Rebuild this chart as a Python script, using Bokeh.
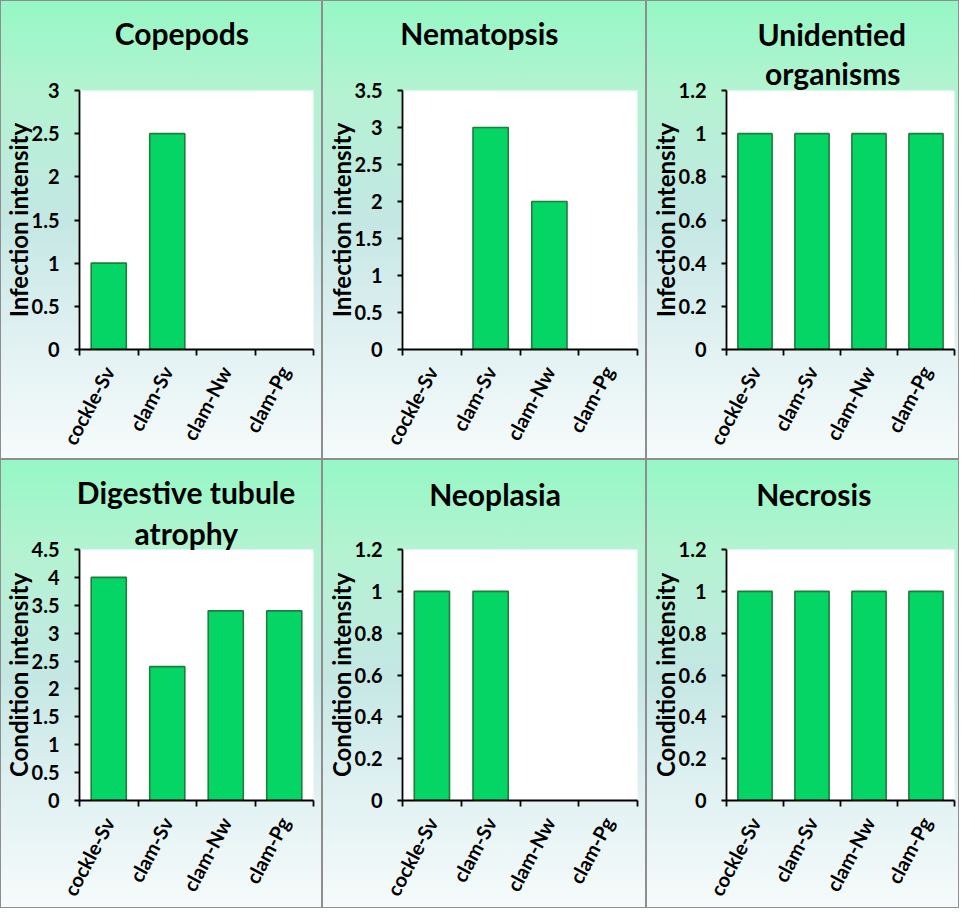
import math
from bokeh.plotting import figure
from bokeh.layouts import gridplot
from bokeh.models import (FixedTicker, NumeralTickFormatter, Range1d, ColumnDataSource,
                          CustomJSTickFormatter, Title, LinearAxis)
from bokeh.embed import file_html
from bokeh.resources import INLINE

# ---------------- data ----------------
categories = ["cockle-Sv", "clam-Sv", "clam-Nw", "clam-Pg"]
copepods = [1.0, 2.5, 0.0, 0.0]
nematopsis = [0.0, 3.0, 2.0, 0.0]
unidentified = [1.0, 1.0, 1.0, 1.0]
digestive_atrophy = [4.0, 2.4, 3.4, 3.4]
neoplasia = [1.0, 1.0, 0.0, 0.0]
necrosis = [1.0, 1.0, 1.0, 1.0]

panel_titles = [["Copepods"], ["Nematopsis"], ["Unidentied", "organisms"],
                ["Digestive tubule", "atrophy"], ["Neoplasia"], ["Necrosis"]]
y_labels = ["Infection intensity"] * 3 + ["Condition intensity"] * 3
y_max = [3.0, 3.5, 1.2, 4.5, 1.2, 1.2]
y_step = [0.5, 0.5, 0.2, 0.5, 0.2, 0.2]
series = [copepods, nematopsis, unidentified, digestive_atrophy, neoplasia, necrosis]

# ---------------- style / layout ----------------
FONT = "Lato"
TITLE_PX = 30
col_w = [322, 324, 313]
row_h = [459, 449]
border_left = [79, 80, 80]
border_right = [9, 9, 5]
border_top = [90, 90]
border_bottom = [110, 101]
# approximate rendered width (in em) of each title line, used to centre it
title_em = [[4.39], [5.21], [4.93, 4.46], [7.21, 3.36], [4.32], [3.82]]
# horizontal shift (px) of each title line's centre from the frame centre
title_dx = [[-16], [-41.5], [-9, -8.5], [-11.5, -11.5], [-26], [-27]]
# standoffs: listed from the outer (top) line to the line nearest the frame
title_standoff = [[0], [0], [4, -1], [8, -2], [0], [0]]
SINGLE_TITLE_GAP = [40, 38]   # empty space between a one-line title and the frame

BG = ("linear-gradient(to bottom, #95f7c5 0%, #b3f3d1 20%, #c4e7e4 48%, "
      "#dff0f1 72%, #f6fbfb 100%)")


def make_panel(i):
    r, c = divmod(i, 3)
    vals = series[i]
    p = figure(width=col_w[c], height=row_h[r],
               x_range=Range1d(0, len(categories)), y_range=Range1d(0, y_max[i]),
               output_backend="svg", toolbar_location=None,
               min_border_left=border_left[c], min_border_right=border_right[c],
               min_border_top=border_top[r], min_border_bottom=border_bottom[r],
               background_fill_color="white", border_fill_alpha=0,
               outline_line_color=None,
               styles={"background": BG,
                       "box-shadow": "inset 0 0 0 1px #8e8e8e"})
    p.xgrid.visible = False
    p.ygrid.visible = False

    xs = [k + 0.5 for k in range(len(categories))]
    src = ColumnDataSource(dict(x=[x for x, v in zip(xs, vals) if v > 0],
                                top=[v for v in vals if v > 0]))
    p.vbar(x="x", top="top", bottom=0, width=0.6, source=src,
           fill_color="#04d564", line_color="#1f7d3e", line_width=1.6)

    # x axis: labels at category centres, ticks at category boundaries
    xa = p.xaxis[0]
    xa.ticker = FixedTicker(ticks=xs, minor_ticks=list(range(len(categories) + 1)))
    xa.formatter = CustomJSTickFormatter(args=dict(labels=categories),
                                         code="return labels[Math.floor(tick)] || '';")
    xa.major_tick_out = 0
    xa.major_tick_in = 0
    xa.minor_tick_out = 6
    xa.minor_tick_in = 0
    xa.minor_tick_line_color = "black"
    xa.minor_tick_line_width = 1.8
    xa.axis_line_width = 1.8
    xa.axis_line_color = "black"
    xa.major_label_orientation = math.radians(62)
    xa.major_label_standoff = 12
    xa.major_label_text_font = FONT
    xa.major_label_text_font_style = "bold"
    xa.major_label_text_font_size = "20px"
    xa.major_label_text_color = "black"

    # y axis
    n = int(round(y_max[i] / y_step[i]))
    ya = p.yaxis[0]
    ya.ticker = FixedTicker(ticks=[round(k * y_step[i], 2) for k in range(n + 1)])
    ya.formatter = NumeralTickFormatter(format="0.[0]")
    ya.major_tick_out = 5
    ya.major_tick_in = 0
    ya.minor_tick_out = 0
    ya.minor_tick_in = 0
    ya.major_tick_line_width = 1.8
    ya.axis_line_width = 1.8
    ya.axis_line_color = "black"
    ya.major_label_standoff = 15
    ya.major_label_text_font = FONT
    ya.major_label_text_font_style = "bold"
    ya.major_label_text_font_size = "20px"
    ya.major_label_text_color = "black"
    ya.axis_label = y_labels[i]
    ya.axis_label_text_font = FONT
    ya.axis_label_text_font_style = "bold"
    ya.axis_label_text_font_size = "24px"
    ya.axis_label_text_color = "black"
    ya.axis_label_standoff = -4

    # blank spacer (a label-less axis with an invisible tick) for one-line titles
    if len(panel_titles[i]) == 1:
        p.add_layout(LinearAxis(ticker=FixedTicker(ticks=[len(categories) / 2]),
                                formatter=CustomJSTickFormatter(code="return '';"),
                                major_tick_out=SINGLE_TITLE_GAP[r], major_tick_in=0,
                                minor_tick_out=0, minor_tick_in=0,
                                major_label_standoff=0,
                                major_label_text_font_size="1px",
                                axis_line_color=None, major_tick_line_color="black",
                                major_tick_line_width=0.01,
                                minor_tick_line_color=None), "above")

    # titles: one Title per line, left-aligned with an offset that centres it
    frame_w = col_w[c] - border_left[c] - border_right[c]
    lines = list(zip(panel_titles[i], title_em[i], title_dx[i], title_standoff[i]))
    for line, em, dx, so in reversed(lines):   # nearest-to-frame first
        p.add_layout(Title(text=line, align="left",
                           offset=frame_w / 2 + dx - em * TITLE_PX / 2,
                           standoff=so, text_font=FONT, text_font_style="bold",
                           text_font_size=f"{TITLE_PX}px", text_color="black"),
                     "above")
    return p


panels = [make_panel(i) for i in range(6)]
grid = gridplot([panels[0:3], panels[3:6]], toolbar_location=None)

open("out.html", "w").write(file_html(grid, INLINE))
